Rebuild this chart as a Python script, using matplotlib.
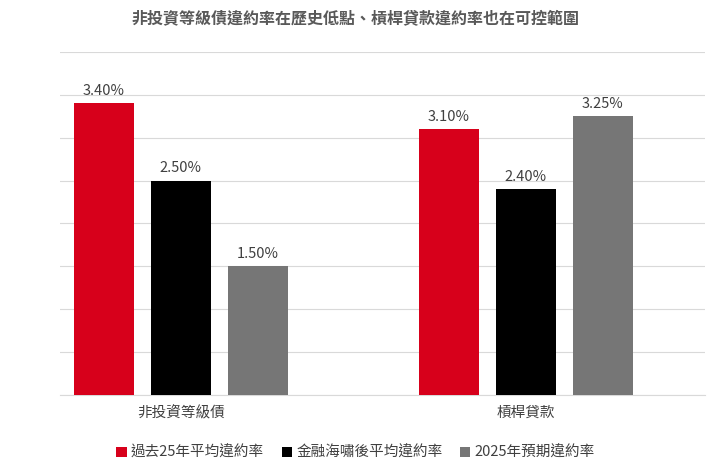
import matplotlib
matplotlib.use("Agg")
import matplotlib.pyplot as plt
import numpy as np

plt.rcParams["font.family"] = ["Noto Sans CJK TC", "DejaVu Sans"]

title = "非投資等級債違約率在歷史低點、槓桿貸款違約率也在可控範圍"
categories = ["非投資等級債", "槓桿貸款"]
series_names = ["過去25年平均違約率", "金融海嘯後平均違約率", "2025年預期違約率"]
values = [[3.40, 3.10], [2.50, 2.40], [1.50, 3.25]]
colors = ["#D7001B", "#000000", "#767676"]

fig = plt.figure(figsize=(7.11, 4.73), dpi=100)
ax = fig.add_axes([60/711, 1-395/473, 645/711, (395-52)/473])
x = np.arange(len(categories))
w = 0.174
off = 0.223
for i, (name, vals, c) in enumerate(zip(series_names, values, colors)):
    xs = x + (i-1)*off
    ax.bar(xs, vals, w, color=c, label=name, zorder=3)
    for xi, v in zip(xs, vals):
        ax.text(xi, v+0.06, f"{v:.2f}%", ha="center", va="bottom", fontsize=10.5, color="#404040")
ax.set_ylim(0, 4.0)
ax.set_yticks(np.arange(0, 4.01, 0.5))
ax.set_yticklabels([])
ax.tick_params(axis="y", length=0)
ax.tick_params(axis="x", length=0, labelsize=10.5, labelcolor="#404040", pad=8)
ax.set_xticks(x)
ax.set_xticklabels(categories)
ax.set_xlim(-0.35, 1.52)
ax.grid(axis="y", color="#d9d9d9", linewidth=0.8, zorder=0)
for s in ["top", "right", "left"]:
    ax.spines[s].set_visible(False)
ax.spines["bottom"].set_color("#d9d9d9")
fig.text(0.5, 1-18/473, title, ha="center", va="center", fontsize=11.5, fontweight="bold", color="#595959")
fig.legend(loc="center", bbox_to_anchor=(0.5, 1-453/473), ncol=3, frameon=False, fontsize=10.5,
           handlelength=0.7, handleheight=0.7, columnspacing=1.2, handletextpad=0.3, labelcolor="#404040")
fig.savefig("out.png", dpi=100)
